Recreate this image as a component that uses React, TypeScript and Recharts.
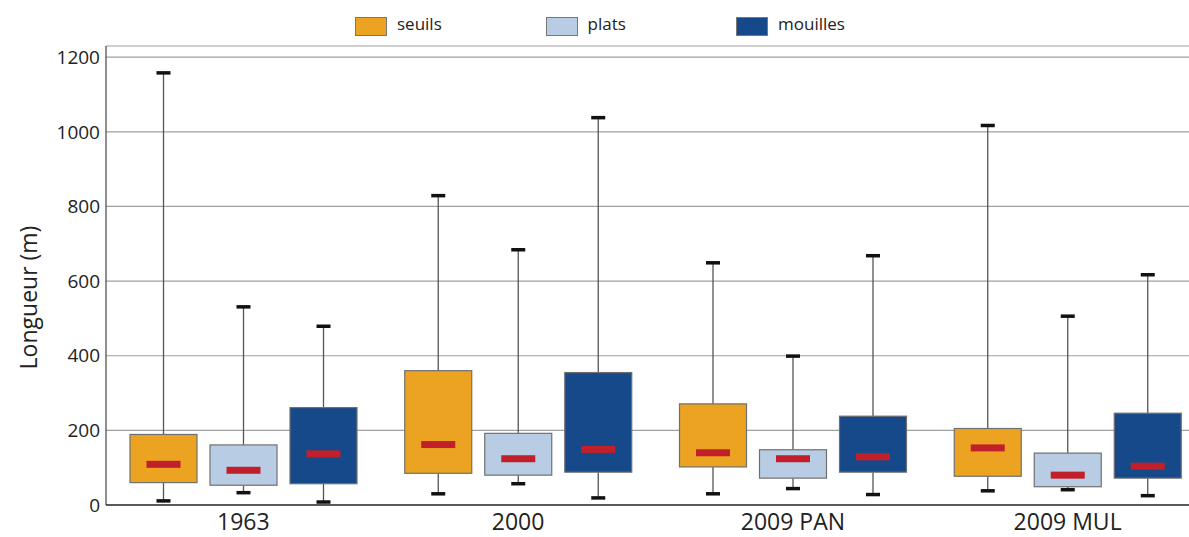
import React from 'react';
import { ComposedChart, Bar, XAxis, YAxis, CartesianGrid, Legend } from 'recharts';

const categories = ['1963', '2000', '2009 PAN', '2009 MUL'];
const yTicks = [0, 200, 400, 600, 800, 1000, 1200];

const seuilsMin = [11, 30, 30, 38];
const seuilsQ1 = [60, 85, 102, 77];
const seuilsMedian = [109, 162, 140, 153];
const seuilsQ3 = [189, 360, 271, 205];
const seuilsMax = [1158, 829, 649, 1017];

const platsMin = [33, 57, 44, 41];
const platsQ1 = [53, 80, 72, 49];
const platsMedian = [93, 124, 124, 80];
const platsQ3 = [161, 192, 148, 139];
const platsMax = [531, 684, 399, 506];

const mouillesMin = [8, 19, 28, 25];
const mouillesQ1 = [57, 88, 88, 72];
const mouillesMedian = [137, 149, 129, 104];
const mouillesQ3 = [261, 355, 238, 246];
const mouillesMax = [479, 1038, 668, 617];

const series = [
  { key: 'seuils', name: 'seuils', color: '#EBA321' },
  { key: 'plats', name: 'plats', color: '#B8CCE4' },
  { key: 'mouilles', name: 'mouilles', color: '#15498A' },
];

const stats = (mn: number[], q1: number[], md: number[], q3: number[], mx: number[], i: number) => ({
  min: mn[i], q1: q1[i], median: md[i], q3: q3[i], max: mx[i],
});

const data = categories.map((c, i) => ({
  category: c,
  seuils: stats(seuilsMin, seuilsQ1, seuilsMedian, seuilsQ3, seuilsMax, i),
  plats: stats(platsMin, platsQ1, platsMedian, platsQ3, platsMax, i),
  mouilles: stats(mouillesMin, mouillesQ1, mouillesMedian, mouillesQ3, mouillesMax, i),
}));

const makeBoxShape = (key: string) => (props: any) => {
  const { x, y, width, height, payload, fill } = props;
  const s = payload[key];
  if (!s) return <g />;
  const top = Math.min(y, y + height);
  const h = Math.abs(height);
  const ppu = h / (s.q3 - s.q1);
  const py = (v: number) => top + (s.q3 - v) * ppu;
  const cx = x + width / 2;
  const capW = 14;
  const capH = 3.5;
  const medW = 34;
  const medH = 7;
  return (
    <g>
      <line x1={cx} x2={cx} y1={py(s.max)} y2={py(s.q3)} stroke="#555" strokeWidth={1.3} />
      <line x1={cx} x2={cx} y1={py(s.q1)} y2={py(s.min)} stroke="#555" strokeWidth={1.3} />
      <rect x={cx - capW / 2} y={py(s.max) - capH / 2} width={capW} height={capH} fill="#111" />
      <rect x={cx - capW / 2} y={py(s.min) - capH / 2} width={capW} height={capH} fill="#111" />
      <rect x={x} y={top} width={width} height={h} fill={fill} stroke="#707070" strokeWidth={1.2} />
      <rect x={cx - medW / 2} y={py(s.median) - medH / 2} width={medW} height={medH} fill="#C1202A" />
    </g>
  );
};

const LegendContent = (props: any) => {
  const payload = props.payload || [];
  const ordered = series
    .map((s) => payload.find((p: any) => p.value === s.name) || { value: s.name, color: s.color });
  return (
    <div style={{ position: 'relative', height: 0 }}>
      {ordered.map((p: any, i: number) => {
        const left = 355 + i * 190.5;
        return (
          <React.Fragment key={p.value}>
            <div
              style={{
                position: 'absolute', left, top: 17, width: 32, height: 19,
                background: p.color, border: '1px solid #777', boxSizing: 'border-box',
              }}
            />
            <span
              style={{
                position: 'absolute', left: left + 42, top: 15, fontSize: 17, lineHeight: '17px',
                color: '#222', fontFamily: 'Open Sans', whiteSpace: 'nowrap',
              }}
            >
              {p.value}
            </span>
          </React.Fragment>
        );
      })}
    </div>
  );
};

const YLabel = (props: any) => {
  const vb = props.viewBox || { y: 46, height: 459 };
  const cx = 28;
  const cy = vb.y + vb.height / 2 + 22;
  return (
    <text
      x={cx}
      y={cy}
      transform={`rotate(-90, ${cx}, ${cy})`}
      textAnchor="middle"
      dominantBaseline="central"
      fontSize={23}
      fill="#222"
      fontFamily="Open Sans"
    >
      Longueur (m)
    </text>
  );
};

export default function App() {
  return (
    <div
      style={{
        position: 'absolute', left: 0, top: 0, width: 1189, height: 537,
        overflow: 'hidden', background: '#fff', fontFamily: 'Open Sans',
      }}
    >
      <ComposedChart
        width={1210}
        height={537}
        data={data}
        margin={{ top: 46, right: 5, bottom: 0, left: 0 }}
        barGap={13}
        barSize={67}
      >
        <CartesianGrid vertical={false} stroke="#a0a0a0" strokeWidth={1.2} />
        <XAxis
          dataKey="category"
          height={32}
          tickLine={false}
          tickSize={0}
          tickMargin={9}
          axisLine={{ stroke: '#333', strokeWidth: 1.5 }}
          tick={{ fontSize: 23, fill: '#222', fontFamily: 'Open Sans' }}
          interval={0}
        />
        <YAxis
          width={106}
          domain={[0, 1230]}
          ticks={yTicks}
          tickLine={false}
          tickSize={0}
          tickMargin={6}
          axisLine={{ stroke: '#444', strokeWidth: 1.2 }}
          tick={{ fontSize: 19, fill: '#222', fontFamily: 'Open Sans' }}
          label={{ content: <YLabel /> }}
        />
        <Legend
          verticalAlign="top"
          itemSorter={null as any}
          wrapperStyle={{ position: 'absolute', left: 0, top: 0, width: 1189 }}
          content={<LegendContent />}
        />
        {series.map((s) => (
          <Bar
            key={s.key}
            name={s.name}
            dataKey={(d: any) => [d[s.key].q1, d[s.key].q3]}
            fill={s.color}
            isAnimationActive={false}
            shape={makeBoxShape(s.key)}
          />
        ))}
      </ComposedChart>
    </div>
  );
}
